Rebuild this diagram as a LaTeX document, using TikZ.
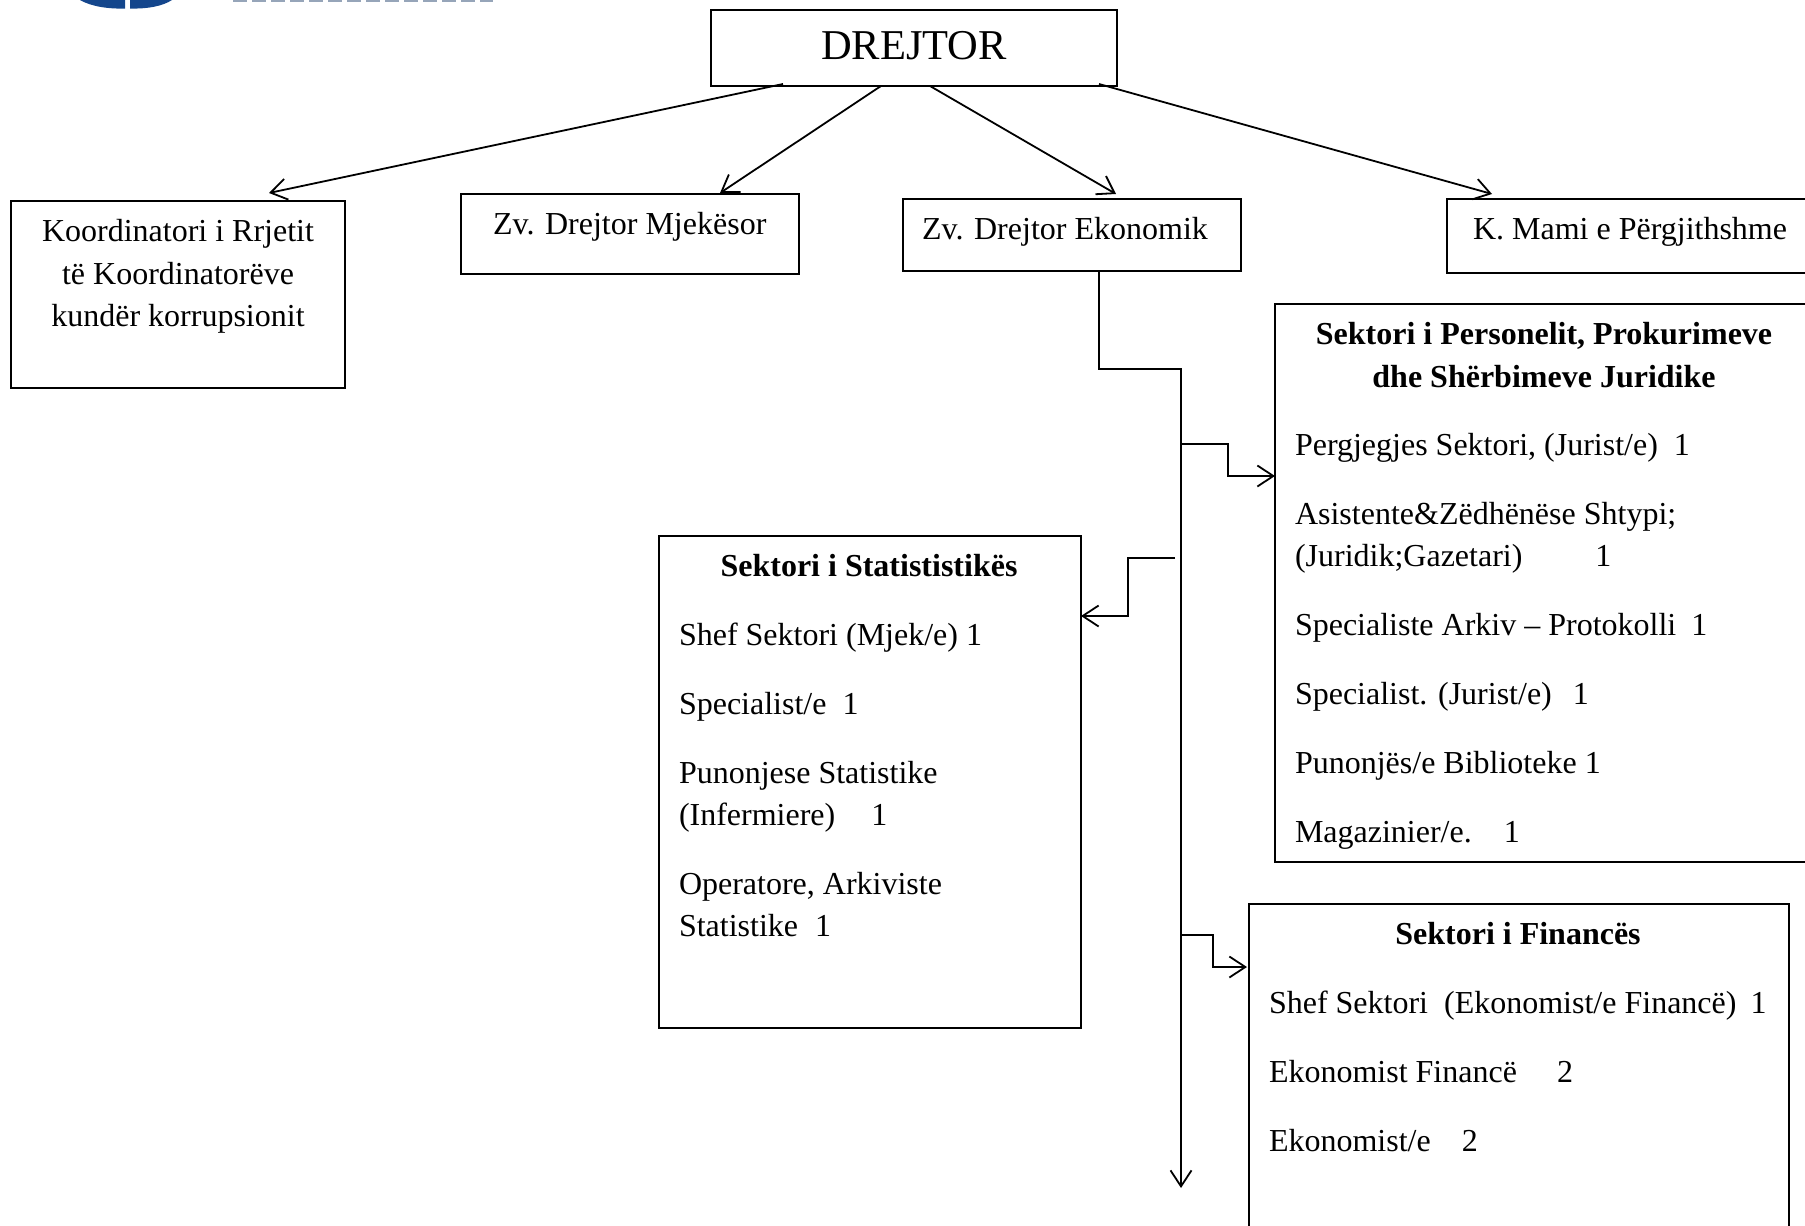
\documentclass[tikz,border=0pt]{standalone}
\usepackage{fontspec}
\setmainfont{Liberation Serif}
\usetikzlibrary{arrows.meta}
\tikzset{
  x=1pt,y=-1pt,
  boxnode/.style={draw=black,line width=1.9pt,minimum width=#1,inner sep=0pt,outer sep=0pt,anchor=north west},
  txt/.style={inner sep=0pt,outer sep=0pt,anchor=base west,font=\fontsize{32}{38}\selectfont},
  ctr/.style={inner sep=0pt,outer sep=0pt,anchor=base,font=\fontsize{32}{38}\selectfont},
  head/.style={inner sep=0pt,outer sep=0pt,anchor=base,font=\fontsize{32}{38}\selectfont\bfseries},
  conn/.style={line width=1.8pt,black,-{Straight Barb[length=16pt,width=21pt,line width=1.8pt]}}
}
\definecolor{logoblue}{RGB}{20,70,140}
\definecolor{logotext}{RGB}{150,165,185}
\begin{document}
\begin{tikzpicture}
\useasboundingbox (0,0) rectangle (1805,1226);
\clip (0,0) rectangle (1805,1226);
% boxes
\node[boxnode=406pt,minimum height=76pt] (drejtor) at (711,10) {};
\node[boxnode=334pt,minimum height=187pt] (koord) at (11,201) {};
\node[boxnode=338pt,minimum height=80pt] (mjek) at (461,194) {};
\node[boxnode=338pt,minimum height=72pt] (ekon) at (903,199) {};
\node[boxnode=380pt,minimum height=74pt] (mami) at (1447,199) {};
\node[boxnode=560pt,minimum height=558pt] (pers) at (1275,304) {};
\node[boxnode=422pt,minimum height=492pt] (stat) at (659,536) {};
\node[boxnode=540pt,minimum height=360pt] (fin) at (1249,904) {};
% texts
\node[inner sep=0pt,anchor=base,font=\fontsize{42.5}{50}\selectfont] (t0) at (914,59.5) {DREJTOR};
\node[ctr] (k1) at (178,241) {Koordinatori i Rrjetit};
\node[ctr] (k2) at (178,284) {të Koordinatorëve};
\node[ctr] (k3) at (178,326) {kundër korrupsionit};
\node[txt] (m1) at (493,234) {Zv. Drejtor Mjekësor};
\node[txt] (e1) at (922,239) {Zv. Drejtor Ekonomik};
\node[txt] (a1) at (1473,239) {K. Mami e Përgjithshme};
\node[head] (p1) at (1544,344) {Sektori i Personelit, Prokurimeve};
\node[head] (p2) at (1544,387) {dhe Shërbimeve Juridike};
\node[txt] (p3) at (1295,455) {Pergjegjes Sektori, (Jurist/e)\hspace{16pt}1};
\node[txt] (p4) at (1295,524) {Asistente\&Zëdhënëse Shtypi;};
\node[txt] (p5) at (1295,566) {(Juridik;Gazetari)\hspace{73pt}1};
\node[txt] (p6) at (1295,635) {Specialiste Arkiv – Protokolli\hspace{15pt}1};
\node[txt] (p7) at (1295,704) {Specialist. (Jurist/e)\hspace{21pt}1};
\node[txt] (p8) at (1295,773) {Punonjës/e Biblioteke 1};
\node[txt] (p9) at (1295,842) {Magazinier/e.\hspace{32pt}1};
\node[head] (s1) at (869,576) {Sektori i Statististikës};
\node[txt] (s2) at (679,645) {Shef Sektori (Mjek/e) 1};
\node[txt] (s3) at (679,714) {Specialist/e\hspace{16pt}1};
\node[txt] (s4) at (679,783) {Punonjese Statistike};
\node[txt] (s5) at (679,825) {(Infermiere)\hspace{36pt}1};
\node[txt] (s6) at (679,894) {Operatore, Arkiviste};
\node[txt] (s7) at (679,936) {Statistike\hspace{17pt}1};
\node[head] (f1) at (1518,944) {Sektori i Financës};
\node[txt] (f2) at (1269,1013) {Shef Sektori\hspace{16pt}(Ekonomist/e Financë)\hspace{14pt}1};
\node[txt] (f3) at (1269,1082) {Ekonomist Financë\hspace{40pt}2};
\node[txt] (f4) at (1269,1151) {Ekonomist/e\hspace{31pt}2};
% connectors
\draw[conn] ([xshift=72pt,yshift=2pt]drejtor.south west) -- ([xshift=258pt,yshift=8pt]koord.north west);
\draw[conn] ([xshift=170pt]drejtor.south west) -- ([xshift=259pt,yshift=1pt]mjek.north west);
\draw[conn] ([xshift=219pt]drejtor.south west) -- ([xshift=213pt,yshift=5pt]ekon.north west);
\draw[conn] ([xshift=388pt,yshift=2pt]drejtor.south west) -- ([xshift=45pt,yshift=5pt]mami.north west);
\coordinate (j0) at (1181,369);
\coordinate (j1) at (1181,1188);
\coordinate (b1) at (1181,444);
\coordinate (b2) at (1175,558);
\coordinate (b3) at (1181,935);
\draw[conn] ([xshift=196pt]ekon.south west) |- (j0) -- (j1);
\draw[conn] (b1) -| (1228,476) -- (pers.west |- 0,476);
\draw[conn] (b2) -| (1128,616) -- (stat.east |- 0,616);
\draw[conn] (b3) -| (1213,967) -- ([xshift=-2pt]fin.west |- 0,967);
% logo fragments (cropped by the top edge)
\fill[logoblue] (80,0) .. controls (92,7) and (110,9) .. (125,8.5) -- (125,0) -- cycle;
\fill[logoblue] (130,0) -- (130,8.5) .. controls (148,9) and (163,6) .. (172,0) -- cycle;
\draw[logotext,line width=4pt,dash pattern=on 14pt off 5pt] (233,0) -- (493,0);
\end{tikzpicture}
\end{document}
